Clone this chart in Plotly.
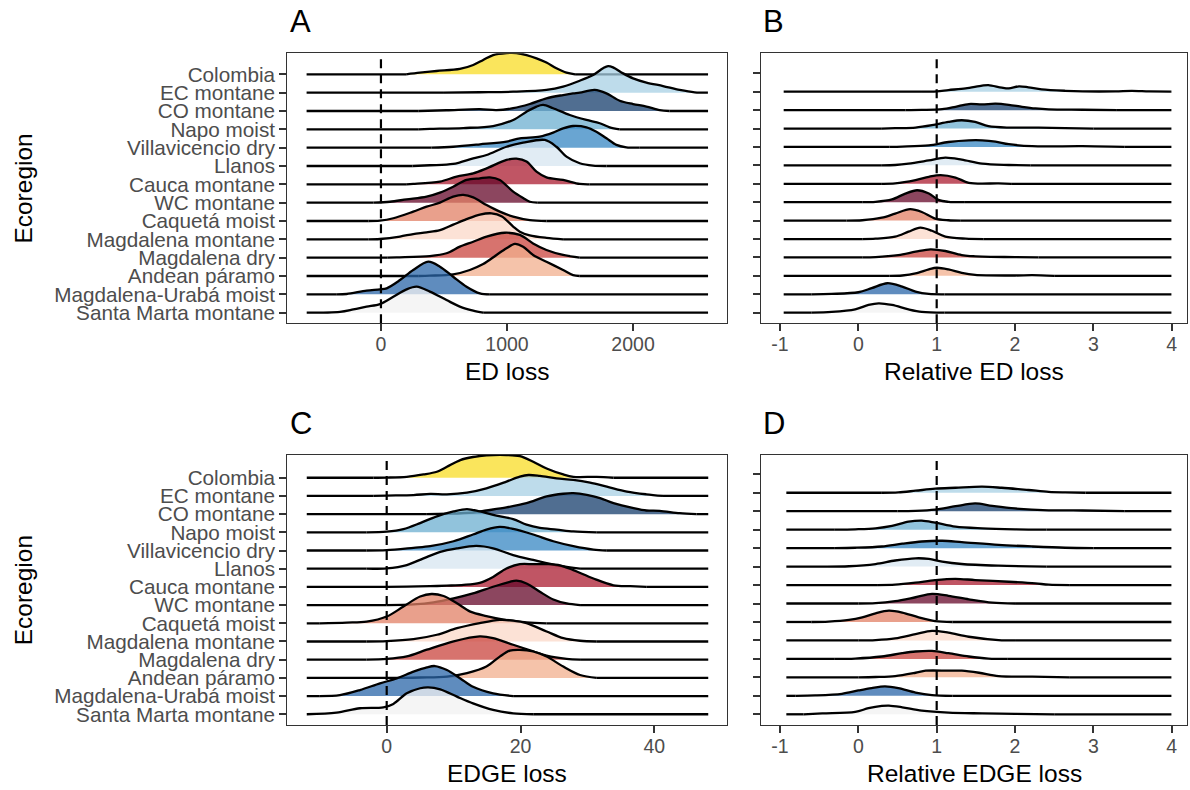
import plotly.graph_objects as go

# ---------------- data ----------------
ecoregions = ["Colombia", "EC montane", "CO montane", "Napo moist", "Villavicencio dry",
              "Llanos", "Cauca montane", "WC montane", "Caquetá moist", "Magdalena montane",
              "Magdalena dry", "Andean páramo", "Magdalena-Urabá moist", "Santa Marta montane"]

# Panel A: ED loss (density curves: x position, ridge height in row units)
ed_span = [-590, 2595]
ed_ticks = [0, 1000, 2000]
ed_x = {
    "Colombia": [200, 309, 441, 626, 732, 811, 890, 996, 1075, 1155, 1234, 1313, 1392, 1472, 1540],
    "EC montane": [500, 785, 1049, 1313, 1445, 1577, 1683, 1762, 1802, 1841, 1921, 2000, 2106, 2238, 2370, 2489, 2594],
    "CO montane": [300, 520, 785, 917, 1049, 1181, 1313, 1445, 1524, 1577, 1696, 1789, 1894, 2000, 2106, 2211, 2290],
    "Napo moist": [300, 388, 653, 890, 1049, 1155, 1234, 1287, 1366, 1498, 1630, 1736, 1815, 1894],
    "Villavicencio dry": [400, 573, 785, 996, 1102, 1260, 1366, 1445, 1524, 1630, 1709, 1789, 1868, 1947, 2053],
    "Llanos": [250, 388, 573, 732, 838, 996, 1128, 1300, 1392, 1472, 1577, 1683, 1789],
    "Cauca montane": [200, 256, 468, 600, 732, 838, 996, 1075, 1155, 1234, 1313, 1445, 1577, 1656],
    "WC montane": [-60, 71, 203, 362, 468, 573, 679, 785, 864, 943, 1049, 1128, 1181, 1240],
    "Caquetá moist": [-100, -8, 98, 256, 362, 468, 573, 653, 732, 838, 943, 1049, 1181, 1313],
    "Magdalena montane": [-100, -8, 151, 256, 362, 468, 573, 679, 785, 877, 960, 1049, 1102, 1180, 1313, 1445],
    "Magdalena dry": [50, 124, 388, 520, 626, 732, 838, 983, 1102, 1207, 1313, 1445, 1577],
    "Andean páramo": [300, 388, 573, 705, 811, 917, 996, 1062, 1128, 1207, 1313, 1445, 1524, 1577],
    "Magdalena-Urabá moist": [-350, -272, -114, -8, 45, 151, 256, 375, 468, 573, 679, 785, 864],
    "Santa Marta montane": [-589, -325, -219, -114, -8, 98, 203, 283, 388, 520, 626, 732, 811],
}
ed_h = {
    "Colombia": [0, 0.09, 0.18, 0.29, 0.51, 0.78, 1.05, 1.16, 1.16, 1.05, 0.87, 0.64, 0.33, 0.09, 0],
    "EC montane": [0, 0.02, 0.05, 0.15, 0.33, 0.65, 0.96, 1.33, 1.45, 1.38, 1.05, 0.78, 0.55, 0.36, 0.15, 0.02, 0],
    "CO montane": [0, 0.04, 0.1, 0.05, 0.15, 0.38, 0.69, 0.87, 0.96, 1.0, 1.15, 0.96, 0.56, 0.38, 0.24, 0.05, 0],
    "Napo moist": [0, 0.02, 0.07, 0.18, 0.51, 0.96, 1.24, 1.33, 1.15, 0.78, 0.51, 0.33, 0.11, 0],
    "Villavicencio dry": [0, 0.05, 0.18, 0.33, 0.51, 0.6, 0.82, 1.05, 1.18, 1.11, 0.87, 0.51, 0.15, 0.02, 0],
    "Llanos": [0, 0.04, 0.11, 0.42, 0.6, 1.05, 1.27, 1.42, 1.05, 0.51, 0.15, 0.02, 0],
    "Cauca montane": [0, 0.02, 0.15, 0.42, 0.6, 0.87, 1.33, 1.4, 1.24, 0.69, 0.38, 0.24, 0.02, 0],
    "WC montane": [0, 0.05, 0.18, 0.33, 0.55, 0.87, 1.24, 1.33, 1.38, 1.24, 0.6, 0.25, 0.05, 0],
    "Caquetá moist": [0, 0.02, 0.15, 0.51, 0.78, 1.0, 1.33, 1.42, 1.29, 0.87, 0.51, 0.24, 0.05, 0],
    "Magdalena montane": [0, 0.02, 0.15, 0.29, 0.38, 0.5, 0.8, 1.1, 1.35, 1.42, 1.25, 0.7, 0.42, 0.22, 0.08, 0],
    "Magdalena dry": [0, 0.02, 0.09, 0.24, 0.6, 0.87, 1.15, 1.36, 1.24, 0.78, 0.42, 0.15, 0],
    "Andean páramo": [0, 0.02, 0.09, 0.33, 0.65, 1.15, 1.51, 1.75, 1.6, 1.15, 0.78, 0.33, 0.05, 0],
    "Magdalena-Urabá moist": [0, 0.02, 0.2, 0.27, 0.33, 0.78, 1.33, 1.78, 1.51, 0.96, 0.42, 0.05, 0],
    "Santa Marta montane": [0, 0.05, 0.18, 0.33, 0.47, 0.87, 1.27, 1.42, 1.15, 0.69, 0.33, 0.11, 0],
}

# Panel B: Relative ED loss
red_span = [-0.953, 3.996]
rel_ticks = [-1, 0, 1, 2, 3, 4]
red_x = {
    "EC montane": [0.8, 1.0, 1.15, 1.37, 1.58, 1.66, 1.83, 1.92, 2.05, 2.17, 2.34, 2.64, 2.86, 3.28, 3.49, 3.71, 3.99],
    "CO montane": [0.6, 0.81, 1.07, 1.24, 1.41, 1.58, 1.75, 1.92, 2.09, 2.26, 2.43, 2.86, 3.3],
    "Napo moist": [0.3, 0.47, 0.73, 0.94, 1.15, 1.32, 1.49, 1.66, 1.92, 2.3, 2.64, 3.0],
    "Villavicencio dry": [0.4, 0.56, 0.9, 1.15, 1.41, 1.58, 1.75, 1.92, 2.22, 2.86, 3.4],
    "Llanos": [0.3, 0.47, 0.64, 0.9, 1.11, 1.32, 1.58, 1.92, 2.2],
    "Cauca montane": [0.3, 0.47, 0.73, 0.9, 1.05, 1.24, 1.41, 1.79, 1.95],
    "WC montane": [0.05, 0.22, 0.43, 0.6, 0.75, 0.9, 1.03, 1.15, 1.35],
    "Caquetá moist": [-0.15, 0.05, 0.3, 0.47, 0.66, 0.81, 0.98, 1.15, 1.3],
    "Magdalena montane": [0.05, 0.22, 0.47, 0.64, 0.79, 0.94, 1.11, 1.37, 1.6],
    "Magdalena dry": [0.05, 0.22, 0.51, 0.73, 0.92, 1.11, 1.32, 1.58, 2.0, 2.3],
    "Andean páramo": [0.4, 0.56, 0.73, 0.9, 1.0, 1.15, 1.32, 1.49, 2.0, 2.22, 2.5],
    "Magdalena-Urabá moist": [-0.6, -0.34, 0.0, 0.17, 0.37, 0.56, 0.73, 0.9, 1.1],
    "Santa Marta montane": [-0.6, -0.34, -0.04, 0.13, 0.26, 0.43, 0.64, 0.81, 1.1],
}
red_h = {
    "EC montane": [0, 0.02, 0.09, 0.18, 0.33, 0.36, 0.22, 0.18, 0.29, 0.24, 0.13, 0.05, 0.02, 0.02, 0.05, 0.02, 0],
    "CO montane": [0, 0.01, 0.05, 0.18, 0.33, 0.31, 0.35, 0.29, 0.18, 0.09, 0.04, 0.02, 0],
    "Napo moist": [0, 0.02, 0.05, 0.18, 0.36, 0.45, 0.36, 0.13, 0.05, 0.05, 0.02, 0],
    "Villavicencio dry": [0, 0.02, 0.09, 0.27, 0.36, 0.36, 0.29, 0.15, 0.04, 0.04, 0],
    "Llanos": [0, 0.02, 0.09, 0.27, 0.42, 0.31, 0.09, 0.02, 0],
    "Cauca montane": [0, 0.02, 0.2, 0.38, 0.47, 0.34, 0.05, 0.02, 0],
    "WC montane": [0, 0.02, 0.15, 0.47, 0.65, 0.47, 0.11, 0.02, 0],
    "Caquetá moist": [0, 0.02, 0.16, 0.38, 0.62, 0.47, 0.11, 0.02, 0],
    "Magdalena montane": [0, 0.02, 0.13, 0.4, 0.62, 0.45, 0.13, 0.02, 0],
    "Magdalena dry": [0, 0.02, 0.13, 0.31, 0.44, 0.35, 0.13, 0.04, 0.02, 0],
    "Andean páramo": [0, 0.02, 0.13, 0.35, 0.44, 0.35, 0.16, 0.05, 0.02, 0.04, 0],
    "Magdalena-Urabá moist": [0, 0.02, 0.11, 0.33, 0.6, 0.42, 0.15, 0.02, 0],
    "Santa Marta montane": [0, 0.04, 0.18, 0.42, 0.51, 0.42, 0.18, 0.04, 0],
}

# Panel C: EDGE loss
edge_span = [-11.95, 48.06]
edge_ticks = [0, 20, 40]
edge_x = {
    "Colombia": [-2, 0, 3.0, 5.5, 7.5, 9.0, 11.0, 12.9, 14.9, 17.9, 19.9, 21.9, 23.9, 26.4, 27.9, 31.4, 33.9],
    "EC montane": [-2, 0, 4.0, 6.5, 9.0, 12.0, 14.9, 17.9, 19.9, 21.2, 22.9, 25.4, 27.9, 30.4, 32.9, 35.9, 38.8, 41.3],
    "CO montane": [6, 9.0, 12.9, 14.9, 17.9, 20.9, 23.9, 26.4, 27.9, 29.9, 31.9, 33.9, 36.9, 38.8, 40.8, 43.8, 46.3],
    "Napo moist": [-3, 0, 2.5, 5.0, 7.5, 10.0, 12.0, 13.9, 16.4, 18.9, 20.9, 22.9, 25.4, 27.9, 31.4],
    "Villavicencio dry": [-3, 0, 4.0, 6.5, 10.0, 12.9, 14.9, 16.9, 18.9, 21.9, 24.9, 27.9, 30.9, 32.9],
    "Llanos": [-3, 0, 3.0, 5.5, 8.0, 10.5, 13.4, 15.9, 18.9, 21.9, 25.9, 28.9],
    "Cauca montane": [0, 3.0, 6.5, 9.0, 11.5, 13.9, 15.9, 17.9, 19.9, 21.9, 23.9, 25.9, 27.9, 30.9, 33.9, 36.4, 38.8],
    "WC montane": [0, 4.0, 7.0, 10.0, 12.9, 15.9, 18.4, 19.4, 20.9, 22.9, 24.9, 26.9, 28.9],
    "Caquetá moist": [-10, -6.0, -3.0, 0, 2.5, 5.0, 6.7, 8.5, 10.5, 12.5, 14.9, 17.9, 20.9, 23.9],
    "Magdalena montane": [-3, 0, 4.0, 7.5, 10.5, 13.9, 16.9, 18.9, 20.9, 23.9, 26.4, 28.9, 31.4],
    "Magdalena dry": [-3, 0, 3.0, 6.0, 10.0, 13.9, 15.9, 18.9, 21.9, 23.9, 26.9, 28.9],
    "Andean páramo": [2, 5.0, 9.0, 12.0, 14.9, 16.9, 18.4, 19.9, 21.9, 23.9, 26.4, 28.9, 31.4],
    "Magdalena-Urabá moist": [-10, -7.0, -4.0, -1.0, 1.5, 4.0, 6.0, 7.2, 9.0, 11.0, 12.9, 15.9, 18.9],
    "Santa Marta montane": [-11.95, -7.5, -4.0, -0.5, 1.0, 3.0, 5.0, 6.2, 8.0, 10.5, 12.9, 15.9, 18.9, 21.9],
}
edge_h = {
    "Colombia": [0, 0.01, 0.05, 0.18, 0.33, 0.6, 0.97, 1.14, 1.23, 1.25, 1.19, 0.88, 0.51, 0.18, 0.05, 0.05, 0],
    "EC montane": [0, 0.02, 0.05, 0.11, 0.09, 0.18, 0.42, 0.79, 1.06, 1.15, 1.1, 0.97, 0.88, 0.73, 0.51, 0.24, 0.09, 0],
    "CO montane": [0, 0.02, 0.09, 0.2, 0.37, 0.6, 0.97, 1.12, 1.15, 1.06, 0.88, 0.6, 0.33, 0.2, 0.18, 0.05, 0],
    "Napo moist": [0, 0.04, 0.18, 0.51, 0.88, 1.15, 1.28, 1.15, 0.92, 0.73, 0.42, 0.24, 0.15, 0.05, 0],
    "Villavicencio dry": [0, 0.02, 0.15, 0.24, 0.51, 0.88, 1.15, 1.3, 1.19, 0.88, 0.51, 0.24, 0.05, 0],
    "Llanos": [0, 0.02, 0.2, 0.57, 0.93, 1.12, 1.25, 1.12, 0.75, 0.48, 0.15, 0],
    "Cauca montane": [0, 0.02, 0.04, 0.07, 0.11, 0.22, 0.55, 1.01, 1.25, 1.25, 1.25, 1.19, 0.92, 0.46, 0.09, 0.04, 0],
    "WC montane": [0, 0.04, 0.15, 0.37, 0.64, 1.01, 1.28, 1.34, 1.19, 0.73, 0.31, 0.09, 0],
    "Caquetá moist": [0, 0.04, 0.09, 0.37, 0.92, 1.47, 1.61, 1.5, 1.1, 0.64, 0.4, 0.18, 0.05, 0],
    "Magdalena montane": [0, 0.02, 0.13, 0.37, 0.73, 1.01, 1.19, 1.15, 1.01, 0.55, 0.18, 0.04, 0],
    "Magdalena dry": [0, 0.04, 0.18, 0.55, 1.01, 1.28, 1.19, 0.82, 0.46, 0.22, 0.04, 0],
    "Andean páramo": [0, 0.02, 0.07, 0.26, 0.62, 1.17, 1.5, 1.54, 1.45, 1.17, 0.62, 0.16, 0],
    "Magdalena-Urabá moist": [0, 0.05, 0.33, 0.7, 0.97, 1.34, 1.58, 1.65, 1.43, 0.97, 0.51, 0.15, 0],
    "Santa Marta montane": [0, 0.09, 0.33, 0.38, 0.57, 1.15, 1.43, 1.48, 1.37, 0.97, 0.6, 0.24, 0.05, 0],
}

# Panel D: Relative EDGE loss
redge_span = [-0.919, 3.996]
redge_x = {
    "EC montane": [0.3, 0.51, 0.73, 0.98, 1.24, 1.58, 1.83, 2.17, 2.43, 2.64, 2.9],
    "CO montane": [0.5, 0.73, 0.98, 1.24, 1.49, 1.71, 2.0, 2.43, 2.86, 3.4],
    "Napo moist": [-0.3, -0.04, 0.22, 0.43, 0.64, 0.81, 0.98, 1.24, 1.58, 2.0, 2.4],
    "Villavicencio dry": [-0.3, -0.04, 0.3, 0.56, 0.81, 1.07, 1.32, 1.79, 2.22, 2.64, 3.0],
    "Llanos": [-0.4, -0.12, 0.22, 0.47, 0.73, 0.9, 1.07, 1.32, 1.79, 2.4],
    "Cauca montane": [0.25, 0.47, 0.73, 0.98, 1.24, 1.49, 1.92, 2.26, 2.43, 2.7],
    "WC montane": [0.0, 0.22, 0.47, 0.73, 0.94, 1.15, 1.41, 1.71, 2.0],
    "Caquetá moist": [-0.6, -0.38, -0.12, 0.05, 0.22, 0.39, 0.56, 0.77, 0.98, 1.2],
    "Magdalena montane": [0.0, 0.22, 0.47, 0.73, 0.94, 1.15, 1.41, 1.79, 2.0],
    "Magdalena dry": [-0.3, -0.04, 0.3, 0.56, 0.73, 0.94, 1.15, 1.41, 1.66, 1.9],
    "Andean páramo": [0.0, 0.22, 0.47, 0.73, 0.86, 1.15, 1.32, 1.54, 1.79, 2.22, 2.7],
    "Magdalena-Urabá moist": [-0.8, -0.55, -0.21, 0.0, 0.17, 0.34, 0.51, 0.73, 0.94, 1.2],
    "Santa Marta montane": [-0.7, -0.46, -0.04, 0.13, 0.3, 0.39, 0.56, 0.81, 1.15, 1.58, 2.0, 2.5],
}
redge_h = {
    "EC montane": [0, 0.02, 0.11, 0.22, 0.27, 0.33, 0.27, 0.15, 0.05, 0.02, 0],
    "CO montane": [0, 0.02, 0.09, 0.27, 0.42, 0.29, 0.15, 0.05, 0.04, 0],
    "Napo moist": [0, 0.02, 0.07, 0.2, 0.43, 0.49, 0.38, 0.16, 0.07, 0.02, 0],
    "Villavicencio dry": [0, 0.02, 0.09, 0.24, 0.36, 0.4, 0.33, 0.18, 0.09, 0.02, 0],
    "Llanos": [0, 0.02, 0.14, 0.33, 0.45, 0.42, 0.27, 0.14, 0.05, 0],
    "Cauca montane": [0, 0.02, 0.13, 0.27, 0.34, 0.27, 0.18, 0.09, 0.02, 0],
    "WC montane": [0, 0.02, 0.13, 0.34, 0.52, 0.42, 0.23, 0.05, 0],
    "Caquetá moist": [0, 0.02, 0.11, 0.25, 0.47, 0.61, 0.51, 0.25, 0.05, 0],
    "Magdalena montane": [0, 0.02, 0.11, 0.34, 0.52, 0.42, 0.2, 0.02, 0],
    "Magdalena dry": [0, 0.02, 0.13, 0.31, 0.4, 0.43, 0.31, 0.13, 0.02, 0],
    "Andean páramo": [0, 0.02, 0.07, 0.25, 0.36, 0.36, 0.36, 0.25, 0.07, 0.04, 0],
    "Magdalena-Urabá moist": [0, 0.02, 0.11, 0.29, 0.42, 0.51, 0.42, 0.18, 0.04, 0],
    "Santa Marta montane": [0, 0.05, 0.13, 0.33, 0.45, 0.47, 0.38, 0.2, 0.09, 0.05, 0.02, 0],
}

# ---------------- styles ----------------
fill_rgb = {
    "Colombia": (248, 220, 38),
    "EC montane": (168, 208, 228),
    "CO montane": (22, 62, 108),
    "Napo moist": (108, 175, 208),
    "Villavicencio dry": (55, 135, 195),
    "Llanos": (215, 230, 240),
    "Cauca montane": (171, 28, 48),
    "WC montane": (102, 8, 42),
    "Caquetá moist": (226, 128, 102),
    "Magdalena montane": (251, 216, 200),
    "Magdalena dry": (202, 68, 62),
    "Andean páramo": (242, 175, 142),
    "Magdalena-Urabá moist": (42, 102, 168),
    "Santa Marta montane": (242, 242, 242),
}
ALPHA = 0.75
W, H = 1190, 790
FONT = "Liberation Sans, Arial, sans-serif"
XTICK_FONT = dict(family=FONT, size=19.5, color="#4d4d4d")
YTICK_FONT = dict(family=FONT, size=20.7, color="#4d4d4d")
AX_COL = "#333333"
LW = 2.3


def fx(p):
    return p / W


def fy(p):
    return 1 - p / H


def tick_text(vals):
    return [str(v) for v in vals]  # plain hyphen-minus, like the reference


panels = [
    dict(letter="A", xs=ed_x, hs=ed_h, span=ed_span, n="", xpx=(287.3, 726.7), ypx=(53.3, 323.3),
         xrange=[-743, 2743], yrange=[0.422, 15.145], tickvals=ed_ticks, ref=0,
         title="ED loss", labels=True),
    dict(letter="B", xs=red_x, hs=red_h, span=red_span, n="2", xpx=(761, 1187), ypx=(53.3, 323.3),
         xrange=[-1.2425, 4.195], yrange=[0.424, 15.086], tickvals=rel_ticks, ref=1,
         title="Relative ED loss", labels=False),
    dict(letter="C", xs=edge_x, hs=edge_h, span=edge_span, n="3", xpx=(287.3, 726.7), ypx=(455, 725),
         xrange=[-14.858, 50.82], yrange=[0.41, 15.25], tickvals=edge_ticks, ref=0,
         title="EDGE loss", labels=True),
    dict(letter="D", xs=redge_x, hs=redge_h, span=redge_span, n="4", xpx=(761, 1187), ypx=(455, 725),
         xrange=[-1.2425, 4.195], yrange=[0.42, 15.045], tickvals=rel_ticks, ref=1,
         title="Relative EDGE loss", labels=False),
]

fig = go.Figure()
layout_axes = {}
shapes = []
annotations = []
nrow = len(ecoregions)
row_labels = list(reversed(ecoregions))  # row 1 at bottom

for p in panels:
    xa, ya = "x" + p["n"], "y" + p["n"]
    for i, name in enumerate(ecoregions):
        if name not in p["xs"]:
            continue
        b = nrow - i
        xs, hs = p["xs"][name], p["hs"][name]
        r, g, bl = fill_rgb[name]
        fig.add_trace(go.Scatter(x=[xs[0], xs[-1]], y=[b, b], mode="lines",
                                 line=dict(width=0, color="rgba(0,0,0,0)"),
                                 hoverinfo="skip", showlegend=False, xaxis=xa, yaxis=ya))
        fig.add_trace(go.Scatter(x=xs, y=[b + h for h in hs], mode="lines",
                                 line=dict(color="black", width=LW, shape="spline", smoothing=0.9),
                                 fill="tonexty", fillcolor=f"rgba({r},{g},{bl},{ALPHA})",
                                 hoverinfo="skip", showlegend=False, xaxis=xa, yaxis=ya))
        fig.add_trace(go.Scatter(x=[p["span"][0], xs[0], None, xs[-1], p["span"][1]],
                                 y=[b, b, None, b, b], mode="lines",
                                 line=dict(color="black", width=LW),
                                 hoverinfo="skip", showlegend=False, xaxis=xa, yaxis=ya))

    sfx = p["n"]
    layout_axes["xaxis" + sfx] = dict(
        domain=[fx(p["xpx"][0]), fx(p["xpx"][1])], range=p["xrange"], anchor=ya,
        tickvals=p["tickvals"], ticktext=tick_text(p["tickvals"]),
        ticks="outside", ticklen=7, tickwidth=1.5, tickcolor=AX_COL, ticklabelstandoff=-4,
        showline=True, mirror=True, linecolor=AX_COL, linewidth=1.2,
        showgrid=False, zeroline=False, tickfont=XTICK_FONT, fixedrange=True)
    layout_axes["yaxis" + sfx] = dict(
        domain=[fy(p["ypx"][1]), fy(p["ypx"][0])], range=p["yrange"], anchor=xa,
        tickvals=list(range(1, nrow + 1)), ticktext=row_labels, showticklabels=p["labels"],
        ticks="outside", ticklen=7, tickwidth=1.5, tickcolor=AX_COL,
        showline=True, mirror=True, linecolor=AX_COL, linewidth=1.2,
        showgrid=False, zeroline=False, tickfont=YTICK_FONT, fixedrange=True)

    shapes.append(dict(type="line", xref=xa, yref=ya + " domain", x0=p["ref"], x1=p["ref"],
                       y0=0, y1=1, line=dict(color="black", width=2.2, dash="9px,6px"), layer="above"))

    xc = (p["xpx"][0] + p["xpx"][1]) / 2
    annotations.append(dict(text=p["letter"], x=fx(p["xpx"][0] + 0.5), y=fy(p["ypx"][0] - 31.6),
                            xref="paper", yref="paper", xanchor="left", yanchor="middle",
                            showarrow=False, font=dict(family=FONT, size=31, color="black")))
    annotations.append(dict(text=p["title"], x=fx(xc), y=fy(p["ypx"][1] + 48.4),
                            xref="paper", yref="paper", xanchor="center", yanchor="middle",
                            showarrow=False, font=dict(family=FONT, size=24.5, color="black")))
    if p["labels"]:
        yc = (p["ypx"][0] + p["ypx"][1]) / 2
        annotations.append(dict(text="Ecoregion", x=fx(23.3), y=fy(yc), textangle=-90,
                                xref="paper", yref="paper", xanchor="center", yanchor="middle",
                                showarrow=False, font=dict(family=FONT, size=24.5, color="black")))

fig.update_layout(
    width=W, height=H, margin=dict(l=0, r=0, t=0, b=0),
    paper_bgcolor="white", plot_bgcolor="white",
    showlegend=False, shapes=shapes, annotations=annotations,
    font=dict(family=FONT), **layout_axes)

fig.write_html("out.html")
